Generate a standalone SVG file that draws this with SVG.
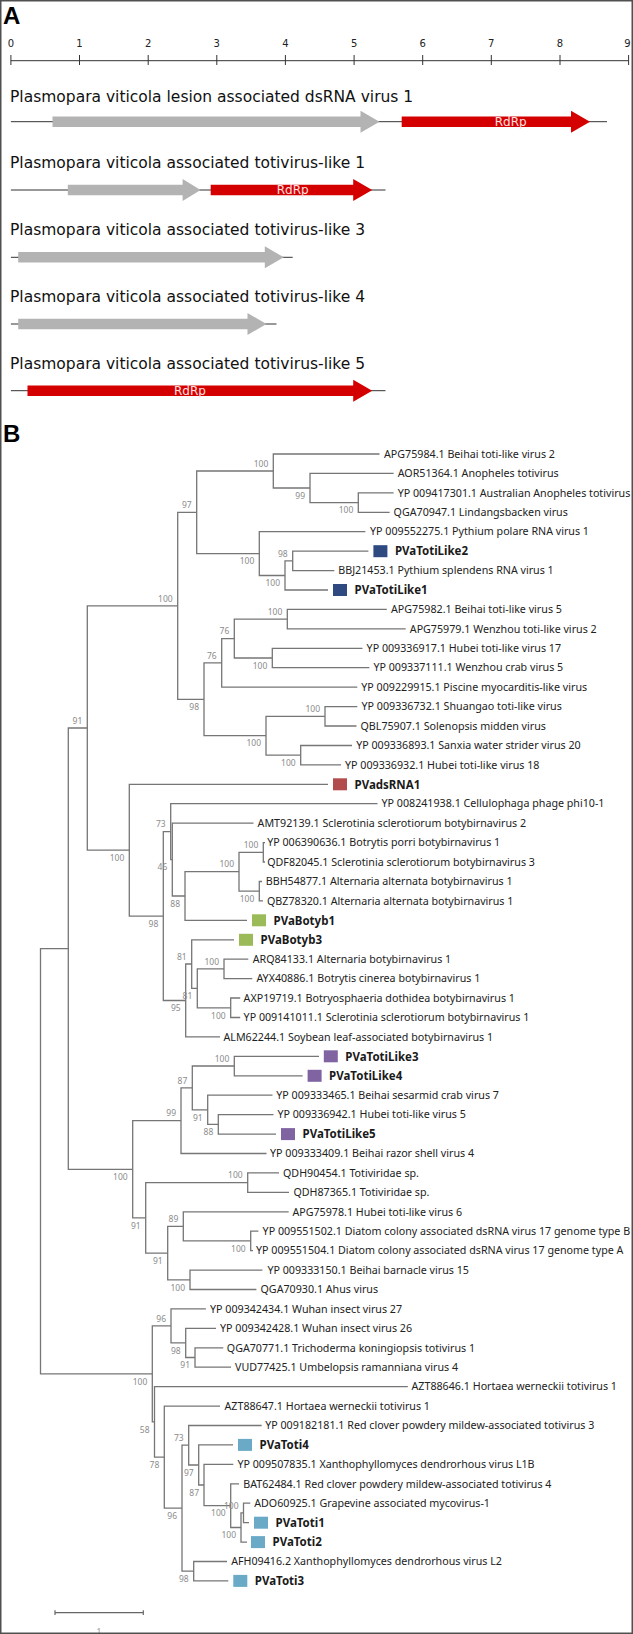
<svg xmlns="http://www.w3.org/2000/svg" width="633" height="1634" viewBox="0 0 633 1634">
<style>
.ttl{font-family:"DejaVu Sans",sans-serif;font-size:15.5px;fill:#111}
.tick{font-family:"DejaVu Sans",sans-serif;font-size:10px;fill:#222;text-anchor:middle}
.panel{font-family:"Liberation Sans",Arial,sans-serif;font-size:24px;font-weight:bold;fill:#000}
.bb{stroke:#333;stroke-width:1;fill:none}
.orf{fill:#b3b3b3}
.rdrp{fill:#d40000}
.rl{font-family:"DejaVu Sans",sans-serif;font-size:12px;fill:#ffe0e0;text-anchor:middle}
.br{fill:none;stroke:#767676;stroke-width:1.3}
.lf{font-family:"Noto Sans",sans-serif;font-size:10.7px;fill:#222}
.pv{font-family:"Noto Sans",sans-serif;font-size:11.5px;font-weight:bold;fill:#1a1a1a}
.bs{font-family:"Noto Sans",sans-serif;font-size:8.5px;fill:#8c8c8c;text-anchor:end}
.c1{fill:#2f4a80}.c2{fill:#b24c4c}.c3{fill:#9bbb59}.c4{fill:#8064a2}.c5{fill:#6aaac6}
</style>
<rect x="0" y="0" width="633" height="1634" fill="#fff"/>

<g id="panelA">
<text class="panel" x="3" y="23.5">A</text>
<g id="ruler">
<path class="bb" d="M10.9,60.7H628.6M10.9,55V65M79.5,55V65M148.2,55V65M216.8,55V65M285.4,55V65M354.1,55V65M422.7,55V65M491.3,55V65M560,55V65M628.6,55V65"/>
<text class="tick" x="10.9" y="47">0</text><text class="tick" x="79.5" y="47">1</text><text class="tick" x="148.2" y="47">2</text><text class="tick" x="216.8" y="47">3</text><text class="tick" x="285.4" y="47">4</text><text class="tick" x="354.1" y="47">5</text><text class="tick" x="422.7" y="47">6</text><text class="tick" x="491.3" y="47">7</text><text class="tick" x="560" y="47">8</text><text class="tick" x="627.5" y="47">9</text>
</g>
<g id="genome1">
<text class="ttl" x="10" y="101.5">Plasmopara viticola lesion associated dsRNA virus 1</text>
<path class="bb" d="M10.9,121.7H607"/>
<polygon class="orf" points="52.5,116.5 360.5,116.5 360.5,110.7 379.5,121.7 360.5,132.7 360.5,126.9 52.5,126.9"/>
<polygon class="rdrp" points="401.7,116.5 571,116.5 571,110.7 590,121.7 571,132.7 571,126.9 401.7,126.9"/>
<text class="rl" x="510.7" y="126">RdRp</text>
</g>
<g id="genome2">
<text class="ttl" x="10" y="168.3">Plasmopara viticola associated totivirus-like 1</text>
<path class="bb" d="M10.9,190H385.5"/>
<polygon class="orf" points="67.8,184.8 182.6,184.8 182.6,179 200.6,190 182.6,201 182.6,195.2 67.8,195.2"/>
<polygon class="rdrp" points="210.7,184.8 353.2,184.8 353.2,179 372.2,190 353.2,201 353.2,195.2 210.7,195.2"/>
<text class="rl" x="292.7" y="194.3">RdRp</text>
</g>
<g id="genome3">
<text class="ttl" x="10" y="235">Plasmopara viticola associated totivirus-like 3</text>
<path class="bb" d="M10.9,257.3H292.7"/>
<polygon class="orf" points="18.2,252.1 264.8,252.1 264.8,246.3 283.8,257.3 264.8,268.3 264.8,262.5 18.2,262.5"/>
</g>
<g id="genome4">
<text class="ttl" x="10" y="301.8">Plasmopara viticola associated totivirus-like 4</text>
<path class="bb" d="M10.9,324H276.5"/>
<polygon class="orf" points="18.2,318.8 247.5,318.8 247.5,313 266.5,324 247.5,335 247.5,329.2 18.2,329.2"/>
</g>
<g id="genome5">
<text class="ttl" x="10" y="368.6">Plasmopara viticola associated totivirus-like 5</text>
<path class="bb" d="M10.9,390.7H385.5"/>
<polygon class="rdrp" points="27.5,385.5 353.2,385.5 353.2,379.7 372.2,390.7 353.2,401.7 353.2,395.9 27.5,395.9"/>
<text class="rl" x="190" y="395">RdRp</text>
</g>
</g>

<text class="panel" x="3" y="441.5">B</text>

<g id="connectors">
<path class="br" d="M393.6,492.9H358.3V512.3H389.6"/>
<path class="br" d="M393.6,473.4H310V502.6H358.3"/>
<path class="br" d="M379.5,454H273.3V488H310"/>
<path class="br" d="M368.4,551.2H292.7V570.6H334.3"/>
<path class="br" d="M292.7,560.9H285V590H328"/>
<path class="br" d="M365.4,531.7H259.3V575.5H285"/>
<path class="br" d="M273.3,471H196.7V553.6H259.3"/>
<path class="br" d="M386.8,609.4H287.3V628.9H405.7"/>
<path class="br" d="M362.5,648.3H272.3V667.7H369.4"/>
<path class="br" d="M287.3,619.2H234.3V658H272.3"/>
<path class="br" d="M234.3,638.6H221.7V687.2H357.3"/>
<path class="br" d="M357.3,706.6H325V726H356.5"/>
<path class="br" d="M352,745.5H300.7V764.9H341"/>
<path class="br" d="M325,716.3H266V755.2H300.7"/>
<path class="br" d="M221.7,662.9H204V735.7H266"/>
<path class="br" d="M196.7,512.3H177.7V699.3H204"/>
<path class="br" d="M265,842.6H263.3V862H265"/>
<path class="br" d="M262,881.5H259.3V900.9H263"/>
<path class="br" d="M263.3,852.3H239V891.2H259.3"/>
<path class="br" d="M239,871.7H185V920.3H247"/>
<path class="br" d="M253.5,823.2H172.3V896H185"/>
<path class="br" d="M377.5,803.7H170.7V859.6H172.3"/>
<path class="br" d="M248.3,959.2H224V978.6H252.3"/>
<path class="br" d="M240.2,998H230.7V1017.5H240.2"/>
<path class="br" d="M224,968.9H197.3V1007.8H230.7"/>
<path class="br" d="M234,939.8H191.7V988.3H197.3"/>
<path class="br" d="M191.7,964H185.7V1036.9H220"/>
<path class="br" d="M170.7,831.7H163.3V1000.5H185.7"/>
<path class="br" d="M328,784.3H129.3V916.1H163.3"/>
<path class="br" d="M177.7,605.8H87.3V850.2H129.3"/>
<path class="br" d="M319,1056.3H234.3V1075.8H302.6"/>
<path class="br" d="M273.5,1114.6H218.3V1134.1H276"/>
<path class="br" d="M272.5,1095.2H207.7V1124.3H218.3"/>
<path class="br" d="M234.3,1066H192.3V1109.8H207.7"/>
<path class="br" d="M192.3,1087.9H181V1153.5H266.5"/>
<path class="br" d="M279,1172.9H247.7V1192.3H289"/>
<path class="br" d="M258.4,1231.2H250.7V1250.6H253"/>
<path class="br" d="M288.7,1211.8H183.3V1240.9H250.7"/>
<path class="br" d="M262.4,1270.1H190V1289.5H256.4"/>
<path class="br" d="M183.3,1226.4H167.7V1279.8H190"/>
<path class="br" d="M247.7,1182.6H145.7V1253.1H167.7"/>
<path class="br" d="M181,1120.7H132.7V1217.9H145.7"/>
<path class="br" d="M87.3,728H68.3V1169.3H132.7"/>
<path class="br" d="M223.3,1347.8H195V1367.2H231"/>
<path class="br" d="M216,1328.4H185.7V1357.5H195"/>
<path class="br" d="M205.9,1308.9H171V1342.9H185.7"/>
<path class="br" d="M227,1561.5H193.7V1580.9H228.3"/>
<path class="br" d="M250.3,1503.2H243.5V1522.7H249"/>
<path class="br" d="M243.5,1512.9H241V1542.1H247"/>
<path class="br" d="M239,1483.8H230.7V1527.5H241"/>
<path class="br" d="M233.3,1464.4H204V1505.7H230.7"/>
<path class="br" d="M233,1444.9H198.7V1485H204"/>
<path class="br" d="M261.6,1425.5H188.7V1465H198.7"/>
<path class="br" d="M188.7,1445.2H182V1571.2H193.7"/>
<path class="br" d="M220,1406.1H164.3V1508.2H182"/>
<path class="br" d="M407.8,1386.6H154.5V1457.1H164.3"/>
<path class="br" d="M171,1325.9H152.3V1421.9H154.5"/>
<path class="br" d="M68.3,948.7H40.5V1373.9H152.3"/>
</g>

<g id="bootstrap">
<text class="bs" x="268.3" y="466.7">100</text>
<text class="bs" x="305" y="498.7">99</text>
<text class="bs" x="353.3" y="513.3">100</text>
<text class="bs" x="191.7" y="508">97</text>
<text class="bs" x="254.3" y="564.3">100</text>
<text class="bs" x="287.7" y="556.6">98</text>
<text class="bs" x="280" y="586.2">100</text>
<text class="bs" x="172.7" y="601.5">100</text>
<text class="bs" x="282.3" y="614.9">100</text>
<text class="bs" x="229.3" y="634.3">76</text>
<text class="bs" x="216.7" y="658.6">76</text>
<text class="bs" x="267.3" y="668.7">100</text>
<text class="bs" x="199" y="710">98</text>
<text class="bs" x="320" y="712">100</text>
<text class="bs" x="261" y="746.4">100</text>
<text class="bs" x="295.7" y="765.9">100</text>
<text class="bs" x="82.3" y="723.7">91</text>
<text class="bs" x="124.3" y="860.9">100</text>
<text class="bs" x="165.7" y="827.4">73</text>
<text class="bs" x="167.3" y="870.3">46</text>
<text class="bs" x="234" y="867.4">100</text>
<text class="bs" x="258.3" y="848">100</text>
<text class="bs" x="254.3" y="901.9">100</text>
<text class="bs" x="180" y="906.7">88</text>
<text class="bs" x="158.3" y="926.8">98</text>
<text class="bs" x="186.7" y="959.7">81</text>
<text class="bs" x="219" y="964.6">100</text>
<text class="bs" x="192.3" y="999">81</text>
<text class="bs" x="180.7" y="1011.2">95</text>
<text class="bs" x="225.7" y="1018.5">100</text>
<text class="bs" x="229.3" y="1061.7">100</text>
<text class="bs" x="187.3" y="1083.6">87</text>
<text class="bs" x="176" y="1116.4">99</text>
<text class="bs" x="202.7" y="1120.5">91</text>
<text class="bs" x="213.3" y="1135">88</text>
<text class="bs" x="127.7" y="1180">100</text>
<text class="bs" x="242.7" y="1178.3">100</text>
<text class="bs" x="140.7" y="1228.6">91</text>
<text class="bs" x="178.3" y="1222.1">89</text>
<text class="bs" x="162.7" y="1263.8">91</text>
<text class="bs" x="245.7" y="1251.6">100</text>
<text class="bs" x="185" y="1290.5">100</text>
<text class="bs" x="166" y="1321.6">96</text>
<text class="bs" x="180.7" y="1353.6">98</text>
<text class="bs" x="190" y="1368.2">91</text>
<text class="bs" x="147.3" y="1384.6">100</text>
<text class="bs" x="149.5" y="1432.6">58</text>
<text class="bs" x="183.7" y="1440.9">73</text>
<text class="bs" x="159.3" y="1467.8">78</text>
<text class="bs" x="193.7" y="1475.7">97</text>
<text class="bs" x="199" y="1495.7">87</text>
<text class="bs" x="238.5" y="1508.6">100</text>
<text class="bs" x="225.7" y="1516.4">100</text>
<text class="bs" x="177" y="1518.9">96</text>
<text class="bs" x="236" y="1538.2">100</text>
<text class="bs" x="188.7" y="1581.9">98</text>
</g>

<g id="leaves">
<g id="leaf1"><text class="lf" x="384" y="457.7">APG75984.1 Beihai toti-like virus 2</text></g>
<g id="leaf2"><text class="lf" x="397.7" y="477.1">AOR51364.1 Anopheles totivirus</text></g>
<g id="leaf3"><text class="lf" x="397.7" y="496.6">YP 009417301.1 Australian Anopheles totivirus</text></g>
<g id="leaf4"><text class="lf" x="393.6" y="516">QGA70947.1 Lindangsbacken virus</text></g>
<g id="leaf5"><text class="lf" x="370" y="535.4">YP 009552275.1 Pythium polare RNA virus 1</text></g>
<g id="PVaTotiLike2"><rect class="c1" x="373.4" y="545.2" width="14" height="12"/><text class="pv" x="394.9" y="555.4">PVaTotiLike2</text></g>
<g id="leaf7"><text class="lf" x="338.3" y="574.3">BBJ21453.1 Pythium splendens RNA virus 1</text></g>
<g id="PVaTotiLike1"><rect class="c1" x="333" y="584" width="14" height="12"/><text class="pv" x="354.5" y="594.2">PVaTotiLike1</text></g>
<g id="leaf9"><text class="lf" x="391" y="613.1">APG75982.1 Beihai toti-like virus 5</text></g>
<g id="leaf10"><text class="lf" x="409.8" y="632.6">APG75979.1 Wenzhou toti-like virus 2</text></g>
<g id="leaf11"><text class="lf" x="366.6" y="652">YP 009336917.1 Hubei toti-like virus 17</text></g>
<g id="leaf12"><text class="lf" x="373.4" y="671.4">YP 009337111.1 Wenzhou crab virus 5</text></g>
<g id="leaf13"><text class="lf" x="361.3" y="690.9">YP 009229915.1 Piscine myocarditis-like virus</text></g>
<g id="leaf14"><text class="lf" x="361.5" y="710.3">YP 009336732.1 Shuangao toti-like virus</text></g>
<g id="leaf15"><text class="lf" x="360.5" y="729.7">QBL75907.1 Solenopsis midden virus</text></g>
<g id="leaf16"><text class="lf" x="356.2" y="749.2">YP 009336893.1 Sanxia water strider virus 20</text></g>
<g id="leaf17"><text class="lf" x="345" y="768.6">YP 009336932.1 Hubei toti-like virus 18</text></g>
<g id="PVadsRNA1"><rect class="c2" x="333" y="778.3" width="14" height="12"/><text class="pv" x="354.5" y="788.5">PVadsRNA1</text></g>
<g id="leaf19"><text class="lf" x="381.5" y="807.4">YP 008241938.1 Cellulophaga phage phi10-1</text></g>
<g id="leaf20"><text class="lf" x="257.6" y="826.9">AMT92139.1 Sclerotinia sclerotiorum botybirnavirus 2</text></g>
<g id="leaf21"><text class="lf" x="267.2" y="846.3">YP 006390636.1 Botrytis porri botybirnavirus 1</text></g>
<g id="leaf22"><text class="lf" x="267.2" y="865.7">QDF82045.1 Sclerotinia sclerotiorum botybirnavirus 3</text></g>
<g id="leaf23"><text class="lf" x="265.8" y="885.2">BBH54877.1 Alternaria alternata botybirnavirus 1</text></g>
<g id="leaf24"><text class="lf" x="267" y="904.6">QBZ78320.1 Alternaria alternata botybirnavirus 1</text></g>
<g id="PVaBotyb1"><rect class="c3" x="252" y="914.3" width="14" height="12"/><text class="pv" x="273.5" y="924.5">PVaBotyb1</text></g>
<g id="PVaBotyb3"><rect class="c3" x="239" y="933.8" width="14" height="12"/><text class="pv" x="260.5" y="944">PVaBotyb3</text></g>
<g id="leaf27"><text class="lf" x="252.7" y="962.9">ARQ84133.1 Alternaria botybirnavirus 1</text></g>
<g id="leaf28"><text class="lf" x="256.4" y="982.3">AYX40886.1 Botrytis cinerea botybirnavirus 1</text></g>
<g id="leaf29"><text class="lf" x="243.6" y="1001.7">AXP19719.1 Botryosphaeria dothidea botybirnavirus 1</text></g>
<g id="leaf30"><text class="lf" x="243.6" y="1021.2">YP 009141011.1 Sclerotinia sclerotiorum botybirnavirus 1</text></g>
<g id="leaf31"><text class="lf" x="223.5" y="1040.6">ALM62244.1 Soybean leaf-associated botybirnavirus 1</text></g>
<g id="PVaTotiLike3"><rect class="c4" x="323.8" y="1050.3" width="14" height="12"/><text class="pv" x="345.3" y="1060.5">PVaTotiLike3</text></g>
<g id="PVaTotiLike4"><rect class="c4" x="307.6" y="1069.8" width="14" height="12"/><text class="pv" x="329.1" y="1080">PVaTotiLike4</text></g>
<g id="leaf34"><text class="lf" x="276.3" y="1098.9">YP 009333465.1 Beihai sesarmid crab virus 7</text></g>
<g id="leaf35"><text class="lf" x="277.4" y="1118.3">YP 009336942.1 Hubei toti-like virus 5</text></g>
<g id="PVaTotiLike5"><rect class="c4" x="281" y="1128.1" width="14" height="12"/><text class="pv" x="302.5" y="1138.3">PVaTotiLike5</text></g>
<g id="leaf37"><text class="lf" x="270" y="1157.2">YP 009333409.1 Beihai razor shell virus 4</text></g>
<g id="leaf38"><text class="lf" x="283" y="1176.6">QDH90454.1 Totiviridae sp.</text></g>
<g id="leaf39"><text class="lf" x="293.4" y="1196">QDH87365.1 Totiviridae sp.</text></g>
<g id="leaf40"><text class="lf" x="292.4" y="1215.5">APG75978.1 Hubei toti-like virus 6</text></g>
<g id="leaf41"><text class="lf" x="262.6" y="1234.9">YP 009551502.1 Diatom colony associated dsRNA virus 17 genome type B</text></g>
<g id="leaf42"><text class="lf" x="256" y="1254.3">YP 009551504.1 Diatom colony associated dsRNA virus 17 genome type A</text></g>
<g id="leaf43"><text class="lf" x="267.4" y="1273.8">YP 009333150.1 Beihai barnacle virus 15</text></g>
<g id="leaf44"><text class="lf" x="260.5" y="1293.2">QGA70930.1 Ahus virus</text></g>
<g id="leaf45"><text class="lf" x="210" y="1312.6">YP 009342434.1 Wuhan insect virus 27</text></g>
<g id="leaf46"><text class="lf" x="220" y="1332.1">YP 009342428.1 Wuhan insect virus 26</text></g>
<g id="leaf47"><text class="lf" x="226.8" y="1351.5">QGA70771.1 Trichoderma koningiopsis totivirus 1</text></g>
<g id="leaf48"><text class="lf" x="235" y="1370.9">VUD77425.1 Umbelopsis ramanniana virus 4</text></g>
<g id="leaf49"><text class="lf" x="411.5" y="1390.3">AZT88646.1 Hortaea werneckii totivirus 1</text></g>
<g id="leaf50"><text class="lf" x="224.5" y="1409.8">AZT88647.1 Hortaea werneckii totivirus 1</text></g>
<g id="leaf51"><text class="lf" x="265.2" y="1429.2">YP 009182181.1 Red clover powdery mildew-associated totivirus 3</text></g>
<g id="PVaToti4"><rect class="c5" x="238" y="1438.9" width="14" height="12"/><text class="pv" x="259.5" y="1449.1">PVaToti4</text></g>
<g id="leaf53"><text class="lf" x="237.4" y="1468.1">YP 009507835.1 Xanthophyllomyces dendrorhous virus L1B</text></g>
<g id="leaf54"><text class="lf" x="243.2" y="1487.5">BAT62484.1 Red clover powdery mildew-associated totivirus 4</text></g>
<g id="leaf55"><text class="lf" x="254.2" y="1506.9">ADO60925.1 Grapevine associated mycovirus-1</text></g>
<g id="PVaToti1"><rect class="c5" x="254" y="1516.7" width="14" height="12"/><text class="pv" x="275.5" y="1526.9">PVaToti1</text></g>
<g id="PVaToti2"><rect class="c5" x="251" y="1536.1" width="14" height="12"/><text class="pv" x="272.5" y="1546.3">PVaToti2</text></g>
<g id="leaf58"><text class="lf" x="231.2" y="1565.2">AFH09416.2 Xanthophyllomyces dendrorhous virus L2</text></g>
<g id="PVaToti3"><rect class="c5" x="233.3" y="1574.9" width="14" height="12"/><text class="pv" x="254.8" y="1585.1">PVaToti3</text></g>
</g>

<g id="scalebar">
<path fill="none" stroke="#666" stroke-width="1.2" d="M55,1612.7H143.3M55,1610.3V1615.1M143.3,1610.3V1615.1"/>
<text class="bs" style="text-anchor:middle;fill:#999" x="99" y="1634.5">1</text>
</g>

<rect x="0.75" y="0.75" width="631.5" height="1632.5" fill="none" stroke="#505050" stroke-width="1.5"/>
</svg>
